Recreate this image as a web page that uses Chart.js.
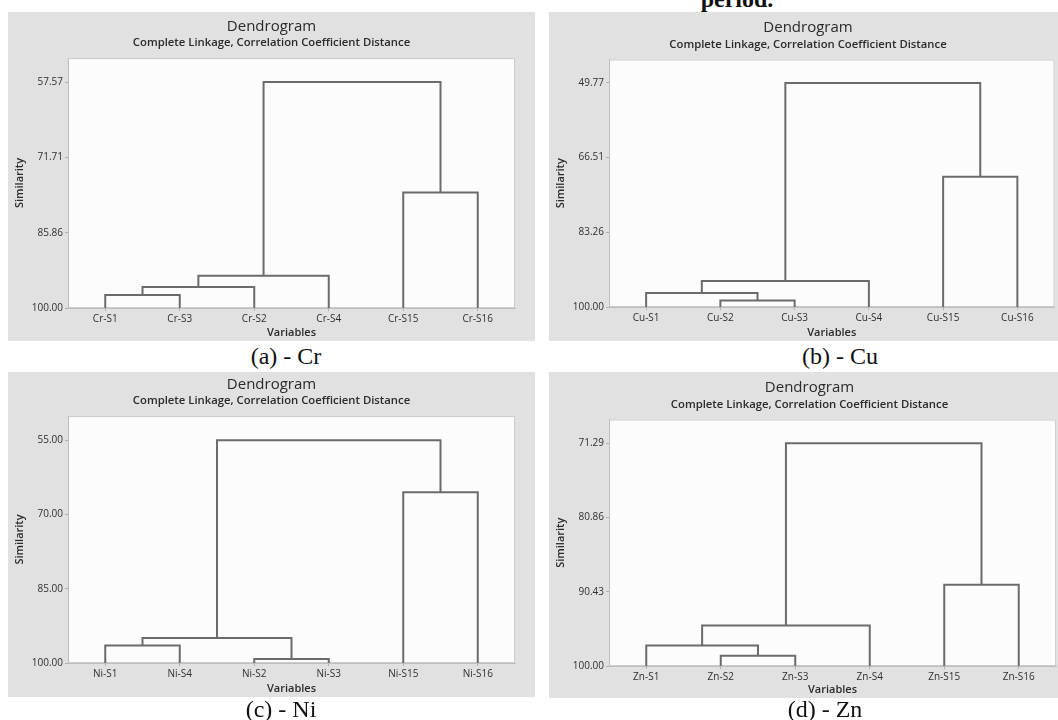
<!DOCTYPE html>
<html>
<head>
<meta charset="utf-8">
<script src="https://cdn.jsdelivr.net/npm/chart.js@4.4.1/dist/chart.umd.min.js"></script>
<style>
html, body { margin:0; padding:0; background:#fff; overflow:hidden; width:1058px; height:720px; }
.panel { position:absolute; background:#e1e1e1; overflow:hidden; }
.panel canvas { display:block; }
.cap { position:absolute; font-family:"Liberation Serif","Times New Roman",serif; font-size:24px; line-height:24px; color:#111; white-space:nowrap; transform:translateX(-50%); }
</style>
</head>
<body>
<div class="cap" style="left:737px;top:-13px;font-weight:bold">period.</div>

<div class="panel" style="left:8px;top:12px;width:527px;height:329px"><canvas id="chartCr" width="527" height="329"></canvas></div>
<div class="panel" style="left:549px;top:12px;width:518px;height:329px"><canvas id="chartCu" width="518" height="329"></canvas></div>
<div class="panel" style="left:8px;top:372px;width:527px;height:325px"><canvas id="chartNi" width="527" height="325"></canvas></div>
<div class="panel" style="left:549px;top:372px;width:521px;height:326px"><canvas id="chartZn" width="521" height="326"></canvas></div>

<div class="cap" style="left:286px;top:344px">(a) - Cr</div>
<div class="cap" style="left:840px;top:344px">(b) - Cu</div>
<div class="cap" style="left:281px;top:697px">(c) - Ni</div>
<div class="cap" style="left:825px;top:697px">(d) - Zn</div>

<script>
// leaves in display order; merges = [left cluster, right cluster, similarity]
// cluster index < 6 is a leaf, >= 6 is an earlier merge
const crLeaves = ['Cr-S1','Cr-S3','Cr-S2','Cr-S4','Cr-S15','Cr-S16'];
const crMerges = [[0,1,97.56],[6,2,96.06],[7,3,93.93],[4,5,78.30],[8,9,57.57]];
const crTicks = [57.57, 71.71, 85.86, 100.00];
const crTop = 53.07;

const cuLeaves = ['Cu-S1','Cu-S2','Cu-S3','Cu-S4','Cu-S15','Cu-S16'];
const cuMerges = [[1,2,98.57],[0,6,96.85],[7,3,94.16],[4,5,70.80],[8,9,49.77]];
const cuTicks = [49.77, 66.51, 83.26, 100.00];
const cuTop = 44.53;

const niLeaves = ['Ni-S1','Ni-S4','Ni-S2','Ni-S3','Ni-S15','Ni-S16'];
const niMerges = [[0,1,96.45],[2,3,99.20],[6,7,94.96],[4,5,65.50],[8,9,55.00]];
const niTicks = [55.00, 70.00, 85.00, 100.00];
const niTop = 50.10;

const znLeaves = ['Zn-S1','Zn-S2','Zn-S3','Zn-S4','Zn-S15','Zn-S16'];
const znMerges = [[1,2,98.67],[0,6,97.37],[7,3,94.79],[4,5,89.52],[8,9,71.29]];
const znTicks = [71.29, 80.86, 90.43, 100.00];
const znTop = 68.24;

const leafLevel = 100;

const FONT = '"Open Sans", "Noto Sans", sans-serif';
const LINE = '#6b6b6b';
const TXT = '#2a2a2a';
const TICK = '#2f2f2f';

const plotBg = {
  id: 'plotBg',
  beforeDraw(chart){
    const a = chart.chartArea, ctx = chart.ctx;
    ctx.save();
    ctx.fillStyle = '#fcfcfc';
    ctx.fillRect(a.left, a.top, a.right - a.left, a.bottom - a.top);
    ctx.strokeStyle = '#cdcdcd';
    ctx.lineWidth = 1;
    ctx.strokeRect(a.left + 0.5, a.top + 0.5, a.right - a.left - 1, a.bottom - a.top - 1);
    ctx.restore();
  }
};

function dendroSegments(leaves, merges){
  const xs = leaves.map((_, i) => i + 1);
  const hs = leaves.map(() => leafLevel);
  const out = [];
  merges.forEach(([a, b, h]) => {
    out.push([{x:xs[a], y:hs[a]}, {x:xs[a], y:h}, {x:xs[b], y:h}, {x:xs[b], y:hs[b]}]);
    xs.push((xs[a] + xs[b]) / 2);
    hs.push(h);
  });
  return out;
}

function makeDendro(id, leaves, merges, ticks, top, lay){
  const segs = dendroSegments(leaves, merges);
  return new Chart(document.getElementById(id), {
    type: 'line',
    data: { datasets: segs.map(s => ({ data:s, borderColor:LINE, borderWidth:2, pointRadius:0, fill:false, tension:0 })) },
    options: {
      responsive:false, animation:false, devicePixelRatio:1,
      layout: { padding:0 },
      plugins: {
        legend: { display:false },
        tooltip: { enabled:false },
        title: { display:true, text:'Dendrogram', color:TXT, font:{ family:FONT, size:15, weight:'normal' }, padding:{ top:lay.titleTop, bottom:0 } },
        subtitle: { display:true, text:'Complete Linkage, Correlation Coefficient Distance', color:TXT, font:{ family:FONT, size:11.3, weight:'600' }, padding:{ top:0.5, bottom:8.5 } }
      },
      scales: {
        x: {
          type:'linear', min:0.5, max:6.5,
          afterBuildTicks: s => { s.ticks = leaves.map((_, i) => ({ value:i + 1 })); },
          afterFit: s => { s.height = lay.xh; },
          ticks: { callback:(v, i) => leaves[i], autoSkip:false, maxRotation:0, padding:2, color:TICK, font:{ family:FONT, size:10 } },
          grid: { drawOnChartArea:false, tickLength:3, color:'#b0b0b0' },
          border: { color:'#bdbdbd' },
          title: { display:true, text:'Variables', color:TXT, font:{ family:FONT, size:11, weight:'600' }, padding:{ top:0, bottom:2 } }
        },
        y: {
          type:'linear', reverse:true, min:top, max:leafLevel,
          afterBuildTicks: s => { s.ticks = ticks.map(v => ({ value:v })); },
          afterFit: s => { s.width = 60; },
          ticks: { callback:v => Number(v).toFixed(2), padding:2, color:TICK, font:{ family:FONT, size:10 } },
          grid: { drawOnChartArea:false, tickLength:3, color:'#b0b0b0' },
          border: { color:'#bdbdbd' },
          title: { display:true, text:'Similarity', color:TXT, font:{ family:FONT, size:11, weight:'600' }, padding:{ top:5 } }
        },
        // empty right-hand margin so the titles stay centred on the whole panel
        yPad: {
          position:'right', display:true,
          afterFit: s => { s.width = lay.right; },
          ticks: { display:false }, grid: { display:false }, border: { display:false }
        }
      }
    },
    plugins: [plotBg]
  });
}

makeDendro('chartCr', crLeaves, crMerges, crTicks, crTop, { right:20, titleTop:5.5, xh:33 });
makeDendro('chartCu', cuLeaves, cuMerges, cuTicks, cuTop, { right:12.5, titleTop:7, xh:34 });
makeDendro('chartNi', niLeaves, niMerges, niTicks, niTop, { right:20, titleTop:3.5, xh:34 });
makeDendro('chartZn', znLeaves, znMerges, znTicks, znTop, { right:14, titleTop:7, xh:32 });
</script>
</body>
</html>
